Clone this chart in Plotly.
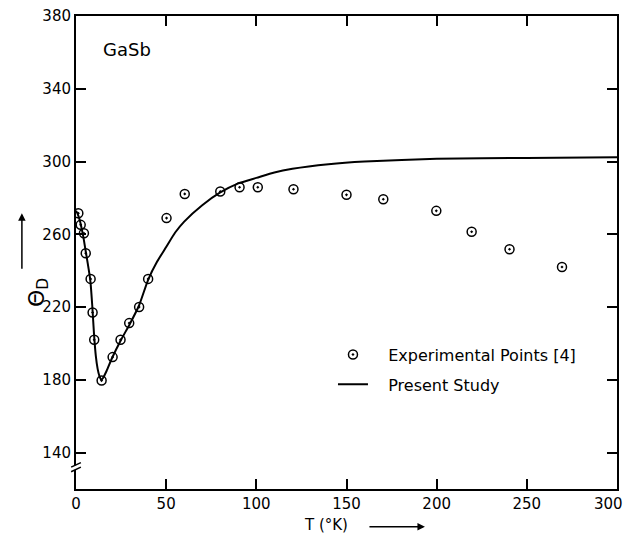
import plotly.graph_objects as go

# Experimental points (T in K, Theta_D in K)
exp_T = [1.3, 2.6, 4.4, 5.4, 8.1, 9.2, 10.1, 14.2, 20.3, 24.7, 29.5, 35.0, 40.0,
         50.2, 60.3, 80.0, 90.7, 100.8, 120.6, 150.0, 170.4, 199.8, 219.4, 240.4, 269.5]
exp_theta = [271.6, 265.2, 260.6, 249.6, 235.5, 217.0, 202.0, 179.6, 192.5, 202.0, 211.2, 220.0, 235.5,
             268.9, 282.2, 283.5, 285.9, 285.9, 284.8, 281.7, 279.3, 272.9, 261.4, 251.8, 242.0]

# Present study curve
calc_T = [0, 1, 2, 4, 5, 6, 7, 8, 9, 10, 11, 12, 13, 14, 15, 17, 20, 25, 30, 35, 40, 45, 50,
          55, 60, 70, 80, 90, 100, 110, 120, 140, 160, 200, 250, 300]
calc_theta = [273, 271, 268, 259, 253, 247, 241, 234, 221, 205, 193, 186, 182, 180, 181, 185, 192,
              202, 211, 221, 235, 245, 253, 261, 267, 276, 283, 288, 291, 294, 296, 298.5, 300,
              301.5, 302, 302.3]

x_ticks = [0, 50, 100, 150, 200, 250, 300]
x_ticktext = ["0", "50", "100", "150", "200", "250", ""]
last_x_label = "300"
y_ticks = [140, 180, 220, 260, 300, 340, 380]

FONT = "DejaVu Sans"

fig = go.Figure()
fig.add_trace(go.Scatter(
    x=exp_T, y=exp_theta, mode="markers", name="   Experimental Points [4]", legendgroup="a",
    marker=dict(symbol="circle-open-dot", size=9, color="black", line=dict(width=1.5, color="black")),
))
fig.add_trace(go.Scatter(
    x=calc_T, y=calc_theta, mode="lines", name="   Present Study", legendgroup="b",
    line=dict(color="black", width=2, shape="spline", smoothing=0.6),
))

axis_common = dict(
    showline=True, linecolor="black", linewidth=2, mirror="ticks",
    ticks="inside", ticklen=10, tickwidth=2, tickcolor="black",
    showgrid=False, zeroline=False, ticklabeloverflow="allow", automargin=False,
    tickfont=dict(family=FONT, size=15, color="black"),
)

fig.update_layout(
    width=628, height=537,
    margin=dict(l=76, r=11, t=16, b=48, autoexpand=False),
    paper_bgcolor="white", plot_bgcolor="white",
    xaxis=dict(range=[0, 300], tickvals=x_ticks, ticktext=x_ticktext, **axis_common),
    yaxis=dict(range=[120, 380], tickvals=y_ticks, ticktext=[str(v) for v in y_ticks], **axis_common),
    showlegend=True,
    legend=dict(x=0.475, y=0.32, xanchor="left", yanchor="top",
                font=dict(family=FONT, size=16, color="black"),
                bgcolor="rgba(0,0,0,0)", tracegroupgap=6, itemwidth=30),
    font=dict(family=FONT, color="black"),
)

# Last x tick label, nudged left so it stays inside the page (as in the original)
fig.add_annotation(x=x_ticks[-1], y=0, xref="x", yref="paper", text=last_x_label, showarrow=False,
                   xanchor="right", yanchor="top", xshift=8, yshift=-4,
                   font=dict(family=FONT, size=15, color="black"))

# Label GaSb
fig.add_annotation(x=0.047, y=0.93, xref="paper", yref="paper", text="GaSb", showarrow=False,
                   xanchor="left", yanchor="middle", font=dict(family=FONT, size=18, color="black"))

# Y axis title with arrow
fig.add_annotation(x=-0.10, y=0.415, xref="paper", yref="paper", text="Θ<sub>D</sub>", showarrow=False,
                   textangle=-90, font=dict(family=FONT, size=22, color="black"))
fig.add_annotation(x=-0.10, y=0.583, xref="paper", yref="paper", text="", showarrow=True,
                   ax=0, ay=57, arrowhead=2, arrowsize=1, arrowwidth=1.5, arrowcolor="black")

# X axis title with arrow
fig.add_annotation(x=0.463, y=-0.077, xref="paper", yref="paper", text="T (°K)", showarrow=False,
                   xanchor="center", yanchor="middle", font=dict(family=FONT, size=15, color="black"))
fig.add_annotation(x=0.645, y=-0.08, xref="paper", yref="paper", text="", showarrow=True,
                   ax=-57, ay=0, arrowhead=2, arrowsize=1, arrowwidth=1.5, arrowcolor="black")

# Axis break marks on left axis
fig.add_shape(type="rect", xref="paper", yref="y", x0=-0.006, x1=0.006, y0=130.5, y1=133.0,
              fillcolor="white", line=dict(width=0), layer="above")
for y0 in (129.5, 132.0):
    fig.add_shape(type="line", xref="paper", yref="y", x0=-0.009, x1=0.009, y0=y0, y1=y0 + 2.5,
                  line=dict(color="black", width=1.5), layer="above")

fig.write_html("out.html", config={"displayModeBar": False},
               post_script="document.body.style.margin='0';document.body.style.overflow='hidden';")
